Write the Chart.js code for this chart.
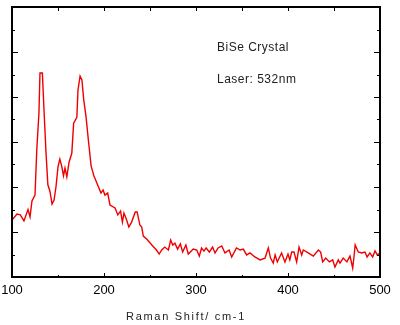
<!DOCTYPE html>
<html>
<head>
<meta charset="utf-8">
<script src="https://cdn.jsdelivr.net/npm/chart.js@4.4.1/dist/chart.umd.min.js"></script>
<style>
  html, body { margin: 0; padding: 0; background: #fff; }
  #wrap { width: 400px; height: 325px; position: relative; }
</style>
</head>
<body>
<div id="wrap"><canvas id="raman"></canvas></div>
<script>
/* Raman spectrum, BiSe crystal */
var shift = [
  100, 105.4, 109, 113, 117.4, 119.6, 121.7, 125, 127, 129.3, 130.4, 133, 134.8, 137, 139, 141.3,
  143.5, 145.7, 147.8, 150, 152, 154, 156, 157.6, 159.6, 162, 165, 167, 170.5, 171.7, 174, 176,
  178, 180.6, 183, 186, 189, 191, 194, 196.7, 199, 201, 204, 206.5, 212, 215, 218, 220,
  221.7, 224.6, 227, 230, 234, 236, 239, 241, 242.7, 246.4, 252, 257, 260, 262.7, 266, 270,
  272.5, 274.7, 277, 280, 283, 285.5, 289, 291.6, 297, 300.8, 303.6, 306, 308.7, 311, 314.5, 318,
  320.7, 324, 328, 331.5, 336, 338.8, 344, 348, 351.4, 355, 358.7, 364, 369.6, 375, 378.6, 381,
  384, 386, 388.4, 393, 396.7, 400, 402, 404, 406.5, 409.4, 412, 414.9, 416.6, 422, 427.5, 433,
  435.5, 437.7, 441, 445, 448.6, 451, 454.7, 456.5, 460, 464, 467.4, 470.3, 471.7, 473, 476.4, 480,
  483.7, 486, 489, 492, 494.6, 497, 500
];
var intensity = [
  2.53, 2.8, 2.76, 2.49, 3.0, 2.67, 3.38, 3.64, 5.7, 7.3, 9.07, 9.07, 7.4, 5.5, 4.1, 3.8,
  3.24, 3.42, 4.0, 4.9, 5.24, 4.93, 4.5, 4.84, 4.45, 5.1, 5.5, 6.84, 7.1, 8.3, 8.93, 8.76,
  7.87, 7.07, 6.09, 4.93, 4.5, 4.3, 4.0, 3.73, 3.87, 3.64, 3.73, 3.2, 3.07, 2.76, 2.93, 2.44,
  2.84, 2.53, 2.22, 2.44, 2.89, 2.89, 2.31, 2.22, 1.82, 1.69, 1.42, 1.2, 1.02, 1.2, 1.33, 1.2,
  1.64, 1.42, 1.5, 1.24, 1.47, 1.11, 1.42, 1.02, 1.24, 1.2, 0.93, 1.29, 1.15, 1.29, 1.11, 1.33,
  1.07, 1.29, 1.38, 1.07, 1.2, 0.89, 1.29, 1.2, 1.24, 0.98, 1.07, 0.89, 0.76, 0.84, 1.29, 0.84,
  0.62, 0.98, 0.67, 1.07, 0.67, 1.02, 0.76, 1.11, 1.11, 0.67, 1.33, 0.98, 1.2, 1.07, 0.93, 1.2,
  1.11, 0.67, 0.84, 0.67, 0.76, 0.44, 0.76, 0.62, 0.84, 0.67, 0.93, 0.4, 0.89, 1.42, 1.11, 1.07,
  1.11, 0.89, 1.07, 0.89, 1.16, 0.98, 1.07
];
var xTicks = [100, 200, 300, 400, 500];
var xTitle = 'Raman Shift/ cm-1';
var notes = ['BiSe Crystal', 'Laser: 532nm'];

var points = shift.map(function (x, i) { return { x: x, y: intensity[i] }; });

// frame, inward ticks, axis title and notes
var framePlugin = {
  id: 'frame',
  afterDraw: function (chart) {
    var ctx = chart.ctx;
    var a = chart.chartArea;
    var xs = chart.scales.x;
    var ys = chart.scales.y;
    var v, px, py, len;

    ctx.save();
    ctx.strokeStyle = '#000';
    ctx.lineWidth = 2;
    ctx.strokeRect(a.left, a.top, a.right - a.left, a.bottom - a.top);

    ctx.lineWidth = 1;
    ctx.beginPath();
    for (v = 150; v < 500; v += 50) {
      px = Math.round(xs.getPixelForValue(v)) + 0.5;
      len = v % 100 === 0 ? 4 : 2;
      ctx.moveTo(px, a.bottom);
      ctx.lineTo(px, a.bottom - len);
      ctx.moveTo(px, a.top);
      ctx.lineTo(px, a.top + 4);
    }
    for (v = 1; v < 12; v++) {
      py = Math.round(ys.getPixelForValue(v)) + 0.5;
      len = v % 2 === 0 ? 6 : 3;
      ctx.moveTo(a.left, py);
      ctx.lineTo(a.left + len, py);
      ctx.moveTo(a.right, py);
      ctx.lineTo(a.right - len, py);
    }
    ctx.stroke();

    ctx.fillStyle = '#222';
    ctx.textBaseline = 'alphabetic';
    ctx.textAlign = 'left';
    ctx.font = '11px "Liberation Sans", Arial, sans-serif';
    ctx.letterSpacing = '1.7px';
    ctx.fillText(xTitle, 126, 320);

    ctx.font = '12px "Liberation Sans", Arial, sans-serif';
    ctx.letterSpacing = '0.5px';
    ctx.fillText(notes[0], 217, 51);
    ctx.fillText(notes[1], 217, 83);
    ctx.restore();
  }
};

new Chart(document.getElementById('raman'), {
  type: 'line',
  data: {
    datasets: [{
      data: points,
      borderColor: '#ee0000',
      borderWidth: 1.4,
      pointRadius: 0,
      tension: 0,
      fill: false
    }]
  },
  options: {
    responsive: true,
    maintainAspectRatio: false,
    animation: false,
    layout: { padding: { left: 12, right: 20, top: 7, bottom: 0 } },
    plugins: { legend: { display: false }, tooltip: { enabled: false } },
    scales: {
      x: {
        type: 'linear',
        min: 100,
        max: 500,
        afterFit: function (scale) {
          scale.height = 48;
          scale.paddingLeft = 0;
          scale.paddingRight = 0;
        },
        afterBuildTicks: function (scale) {
          scale.ticks = xTicks.map(function (t) { return { value: t }; });
        },
        grid: { display: false, drawTicks: false },
        border: { display: false },
        ticks: {
          padding: 6,
          color: '#000',
          maxRotation: 0,
          font: { family: '"Liberation Sans", Arial, sans-serif', size: 13 }
        }
      },
      y: {
        min: 0,
        max: 12,
        display: false
      }
    }
  },
  plugins: [framePlugin]
});
</script>
</body>
</html>
